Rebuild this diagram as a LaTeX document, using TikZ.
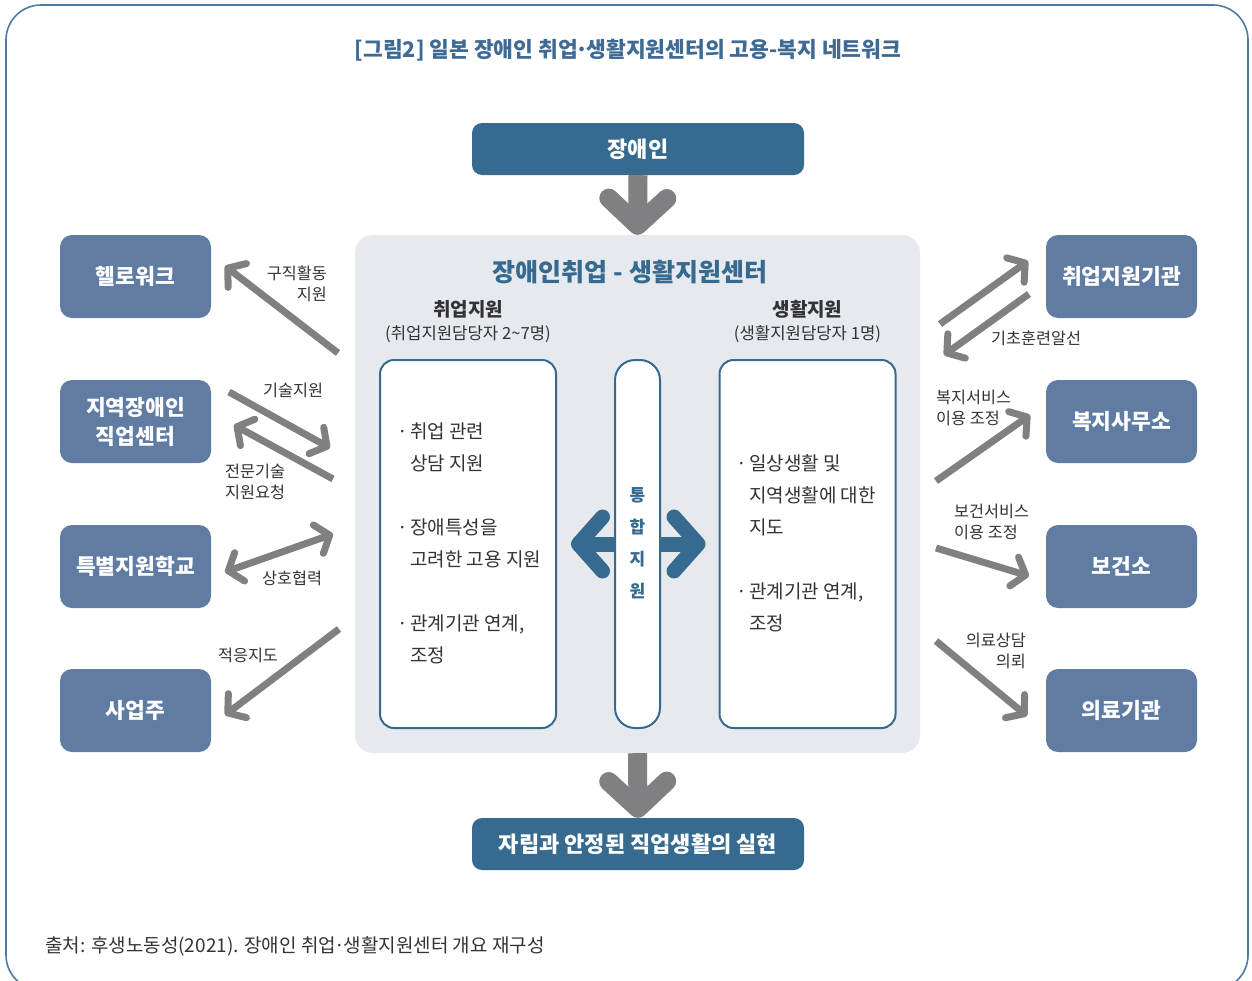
\documentclass[tikz,border=0pt]{standalone}
\usepackage{fontspec}
\setmainfont{Noto Sans CJK KR}
\usetikzlibrary{arrows.meta}
\definecolor{darkblue}{RGB}{54,106,143}
\definecolor{sideblue}{RGB}{96,124,163}
\definecolor{titleblue}{RGB}{62,106,148}
\definecolor{panelgray}{RGB}{230,233,238}
\definecolor{arrowgray}{RGB}{128,128,131}
\definecolor{textgray}{RGB}{51,51,51}
\definecolor{frameblue}{RGB}{80,120,160}
\tikzstyle{outer}=[draw=frameblue, line width=1.6pt, rounded corners=35pt]
\tikzstyle{headbox}=[fill=darkblue, text=white, rounded corners=10pt,
  minimum width=332pt, minimum height=52pt, font=\bfseries\fontsize{22}{26}\selectfont]
\tikzstyle{agency}=[fill=sideblue, text=white, rounded corners=12pt, align=center,
  minimum width=151pt, minimum height=83pt, font=\bfseries\fontsize{21.5}{29}\selectfont]
\tikzstyle{panel}=[fill=panelgray, rounded corners=18pt, minimum width=565pt,
  minimum height=518pt]
\tikzstyle{workbox}=[draw=darkblue, line width=2pt, fill=white, rounded corners=14pt,
  minimum width=176pt, minimum height=368pt]
\tikzstyle{bar}=[workbox, rounded corners=20pt, minimum width=45pt]
\tikzstyle{note}=[text=textgray, font=\fontsize{16.3}{21}\selectfont, inner sep=0pt]
\tikzstyle{bullets}=[text=textgray, font=\fontsize{19}{32}\selectfont, align=left,
  inner sep=0pt, anchor=west]
\tikzstyle{line}=[draw, line width=7pt, color=arrowgray,
  -{Straight Barb[length=12pt,width=30pt,round]}]
\tikzstyle{twoway}=[line, {Straight Barb[length=12pt,width=30pt,round]}-{Straight Barb[length=12pt,width=30pt,round]}]
\tikzstyle{bigline}=[draw, line width=19pt, color=arrowgray,
  -{Straight Barb[length=27pt,width=58pt,round]}]
\tikzstyle{blueline}=[draw, line width=15pt, color=darkblue,
  {Straight Barb[length=24pt,width=54pt,round]}-{Straight Barb[length=24pt,width=54pt,round]}]
\newcommand{\agencybox}[2]{node (#1) [agency] {#2}}
\newcommand{\dotitem}{\makebox[13pt][l]{·}}
\newcommand{\dotskip}{\hspace*{13pt}}
\newcommand{\middot}{\makebox[0.4em]{·}}

\begin{document}
\begin{tikzpicture}[x=1pt,y=-1pt]

  \clip (0,0) rectangle (1252,980);
  \draw[outer] (6,5) rectangle (1248,990);

  % title and source
  \node (TITLE) [text=titleblue, font=\bfseries\fontsize{21.5}{24}\selectfont] at (628,50)
    {[그림2] 일본 장애인 취업\middot 생활지원센터의 고용-복지 네트워크};
  \node (SOURCE) [note, anchor=west, font=\fontsize{19}{21}\selectfont] at (45,946)
    {출처: 후생노동성(2021). 장애인 취업\middot 생활지원센터 개요 재구성};

  % Draw diagram elements
  % center block
  \node (TOPBOX) [headbox] at (638,149) {장애인};
  \node (CENTRO) [panel] at (637.5,494) {};
  \node (RESULT) [headbox] at (638,844) {자립과 안정된 직업생활의 실현};
  \node (CENTERTITLE) [text=darkblue, font=\bfseries\fontsize{25}{28}\selectfont] at (630,272)
    {장애인취업 - 생활지원센터};

  \node (JOBBOX) [workbox] at (468,544) {};
  \node (LIFEBOX) [workbox] at (807.5,544) {};
  \path (JOBBOX.north)+(0,-50) node (JOBHEAD) [text=textgray, font=\bfseries\fontsize{19}{20}\selectfont] {취업지원};
  \path (JOBBOX.north)+(0,-25) node (JOBSTAFF) [text=textgray, font=\fontsize{16.7}{20}\selectfont] {(취업지원담당자 2\textasciitilde7명)};
  \path (LIFEBOX.north)+(0,-50) node (LIFEHEAD) [text=textgray, font=\bfseries\fontsize{19}{20}\selectfont] {생활지원};
  \path (LIFEBOX.north)+(0,-25) node (LIFESTAFF) [text=textgray, font=\fontsize{16.7}{20}\selectfont] {(생활지원담당자 1명)};

  \node (JOBTEXT) [bullets] at (397,543)
    {\dotitem 취업 관련\\ \dotskip 상담 지원\\[32pt]
     \dotitem 장애특성을\\ \dotskip 고려한 고용 지원\\[32pt]
     \dotitem 관계기관 연계,\\ \dotskip 조정};
  \node (LIFETEXT) [bullets] at (736,543)
    {\dotitem 일상생활 및\\ \dotskip 지역생활에 대한\\ \dotskip 지도\\[32pt]
     \dotitem 관계기관 연계,\\ \dotskip 조정};

  % integrated support
  \path [blueline] (JOBBOX.east) [shorten <=14pt, shorten >=13pt] -- (LIFEBOX.west);
  \node (MIDBAR) [bar] at (637.5,544) {};
  \node (MIDTEXT) [text=darkblue, align=center, font=\bfseries\fontsize{17}{32}\selectfont] at (637.5,543)
    {통\\합\\지\\원};

  % agencies
  \path (135.5,276.5) \agencybox{HELLO}{헬로워크};
  \path (HELLO.center)+(0,145) \agencybox{LOCAL}{지역장애인\\직업센터};
  \path (LOCAL.center)+(0,145) \agencybox{SCHOOL}{특별지원학교};
  \path (SCHOOL.center)+(0,144) \agencybox{EMPLOYER}{사업주};
  \path (1121.5,276.5) \agencybox{EMPORG}{취업지원기관};
  \path (EMPORG.center)+(0,145) \agencybox{WELFARE}{복지사무소};
  \path (WELFARE.center)+(0,145) \agencybox{HEALTH}{보건소};
  \path (HEALTH.center)+(0,144) \agencybox{MEDICAL}{의료기관};

  % arrow ends
  \coordinate (hw1) at (338,353); \coordinate (hw2) at (225,266);
  \coordinate (lc1) at (229,392); \coordinate (lc2) at (330,448);
  \coordinate (lc3) at (333,479); \coordinate (lc4) at (234,425);
  \coordinate (sc1) at (225,572); \coordinate (sc2) at (333,534);
  \coordinate (em1) at (339,629); \coordinate (em2) at (225,715);
  \coordinate (eo1) at (940,324); \coordinate (eo2) at (1028,261);
  \coordinate (eo3) at (1029,294); \coordinate (eo4) at (944,355);
  \coordinate (wf1) at (936,481); \coordinate (wf2) at (1030,415);
  \coordinate (ht1) at (936,548); \coordinate (ht2) at (1029,576);
  \coordinate (md1) at (936,641); \coordinate (md2) at (1027,716);

  % Draw arrows between elements
  \path [bigline] (TOPBOX.south) -- (CENTRO.north);
  \path [bigline] (CENTRO.south) -- (RESULT.north);

  \path [line] (hw1) -- (hw2);
  \path [line] (lc1) -- (lc2);
  \path [line] (lc3) -- (lc4);
  \path [twoway] (sc1) -- (sc2);
  \path [line] (em1) -- (em2);
  \path [line] (eo1) -- (eo2);
  \path [line] (eo3) -- (eo4);
  \path [line] (wf1) -- (wf2);
  \path [line] (ht1) -- (ht2);
  \path [line] (md1) -- (md2);

  % arrow labels
  \node (L1) [note, anchor=east, align=right] at (327,283.5) {구직활동\\지원};
  \node (L2) [note] at (293,390) {기술지원};
  \node (L3) [note, anchor=west, align=left] at (225,481.5) {전문기술\\지원요청};
  \node (L4) [note] at (292,578) {상호협력};
  \node (L5) [note] at (248,655) {적응지도};
  \node (R1) [note] at (1036,338) {기초훈련알선};
  \node (R2) [note, anchor=west, align=left] at (936,407.5) {복지서비스\\이용 조정};
  \node (R3) [note, anchor=west, align=left] at (954,522) {보건서비스\\이용 조정};
  \node (R4) [note, anchor=east, align=right] at (1026,650.5) {의료상담\\의뢰};

\end{tikzpicture}
\end{document}
